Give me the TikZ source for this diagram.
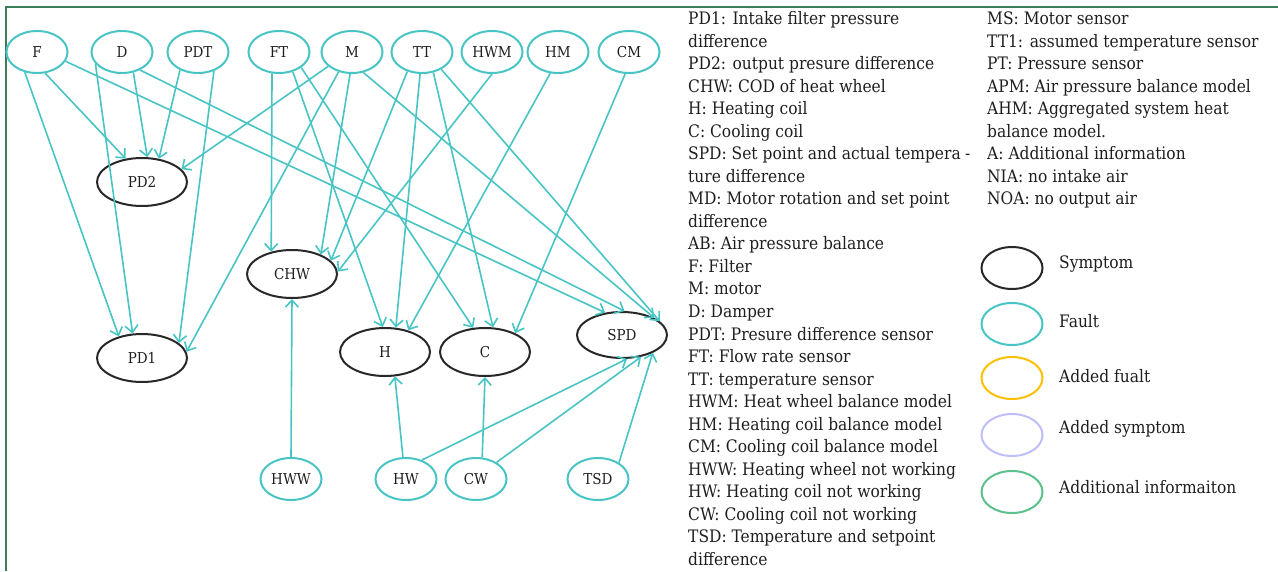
\documentclass[tikz,border=0pt]{standalone}
\usepackage{fontspec}
\setmainfont{DejaVu Serif Condensed}
\usetikzlibrary{shapes.geometric,arrows.meta}
\definecolor{faultc}{RGB}{72,196,196}
\definecolor{sympc}{RGB}{40,40,40}
\definecolor{textc}{RGB}{30,30,30}
\definecolor{addfault}{RGB}{255,192,0}
\definecolor{addsymp}{RGB}{190,190,250}
\definecolor{addinfo}{RGB}{90,192,140}
\definecolor{framec}{RGB}{60,125,90}
\begin{document}
\begin{tikzpicture}[x=1pt,y=-1pt,
  fault/.style={draw=faultc, line width=2pt, ellipse, minimum width=61pt, minimum height=42pt,
    inner sep=0pt, text=textc, font=\fontsize{15}{17}\selectfont},
  symptom/.style={draw=sympc, line width=2pt, ellipse, minimum width=90pt, minimum height=48pt,
    inner sep=0pt, text=textc, font=\fontsize{15}{17}\selectfont},
  legmark/.style={ellipse, line width=2pt, minimum width=61pt, minimum height=42pt, inner sep=0pt},
  link/.style={draw=faultc, line width=1.6pt, -{Straight Barb[length=7pt,width=13pt]}},
  legtext/.style={anchor=base west, inner sep=0pt, text=textc, font=\fontsize{17.2}{20}\selectfont},
]
\useasboundingbox (0,0) rectangle (1278,571);
% frame
\draw[framec, line width=2.5pt] (6,571) -- (6,7) -- (1278,7);

% top row of faults
\node[fault] (F)   at (37,52)  {F};
\node[fault] (D)   at (122,52) {D};
\node[fault] (PDT) at (198,52) {PDT};
\node[fault] (FT)  at (279,52) {FT};
\node[fault] (M)   at (352,52) {M};
\node[fault] (TT)  at (422,52) {TT};
\node[fault] (HWM) at (492,52) {HWM};
\node[fault] (HM)  at (558,52) {HM};
\node[fault] (CM)  at (629,52) {CM};

% symptoms
\node[symptom] (PD2) at (142,182) {PD2};
\node[symptom] (PD1) at (142,358) {PD1};
\node[symptom] (CHW) at (292,274) {CHW};
\node[symptom] (H)   at (385,352) {H};
\node[symptom] (C)   at (485,352) {C};
\node[symptom, minimum height=46pt] (SPD) at (622,335) {SPD};

% bottom row of faults
\node[fault] (HWW) at (291,479) {HWW};
\node[fault] (HW)  at (406,479) {HW};
\node[fault] (CW)  at (476,479) {CW};
\node[fault] (TSD) at (598,479) {TSD};

% fault -> symptom links
\draw[link] (F.-69)  -- (PD2.125);
\draw[link] (F.-121) -- (PD1.137);
\draw[link] (F.-18)  -- (SPD.127);
\draw[link] (D.-61)  -- (PD2.78);
\draw[link] (D.-156) -- (PD1.111);
\draw[link] (D.-45)  -- (SPD.84);
\draw[link] (PDT.-135) -- (PD2.54);
\draw[link] (PDT.-50)  -- (PD1.22);
\draw[link] (FT.-108) -- (CHW.133);
\draw[link] (FT.-55)  -- (H.95);
\draw[link] (FT.-35)  -- (C.116);
\draw[link] (M.-149) -- (PD2.18);
\draw[link] (M.-124) -- (PD1.8);
\draw[link] (M.-95)  -- (CHW.34);
\draw[link] (M.-61)  -- (SPD.28);
\draw[link] (TT.-127) -- (CHW.19);
\draw[link] (TT.-95)  -- (H.66);
\draw[link] (TT.-61)  -- (C.72);
\draw[link] (TT.-42)  -- (SPD.20);
\draw[link] (HWM.-90) -- (CHW.3);
\draw[link] (HM.-110) -- (H.43);
\draw[link] (CM.-100) -- (C.32);
\draw[link] (HWW.north) -- (CHW.south);
\draw[link] (HW.98) -- (H.-68);
\draw[link] (HW.50) -- (SPD.-78);
\draw[link] (CW.74) -- (C.-90);
\draw[link] (CW.39) -- (SPD.-49);
\draw[link] (TSD.38) -- (SPD.-30);

% abbreviations, first column
\foreach \t [count=\i from 0] in {
  PD1: Intake filter pressure, difference, PD2: output presure difference,
  CHW: COD of heat wheel, H: Heating coil, C: Cooling coil,
  SPD: Set point and actual tempera, ture difference,
  MD: Motor rotation and set point, difference, AB: Air pressure balance,
  F: Filter, M: motor, D: Damper, PDT: Presure difference sensor,
  FT: Flow rate sensor, TT: temperature sensor, HWM: Heat wheel balance model,
  HM: Heating coil balance model, CM: Cooling coil balance model,
  HWW: Heating wheel not working, HW: Heating coil not working,
  CW: Cooling coil not working, TSD: Temperature and setpoint, difference}
  \node[legtext] (la\i) at (688,24.5+22.54*\i) {\t};
% hyphen of the broken word "tempera-ture"
\node[legtext] (hy) at (965,24.5+22.54*6) {-};

% abbreviations, second column
\foreach \t [count=\i from 0] in {
  MS: Motor sensor, TT1: assumed temperature sensor, PT: Pressure sensor,
  APM: Air pressure balance model, AHM: Aggregated system heat,
  balance model., A: Additional information, NIA: no intake air, NOA: no output air}
  \node[legtext] (lb\i) at (987,24.5+22.54*\i) {\t};

% key
\node[legmark, draw=sympc]    (k1) at (1012,268) {};
\node[legmark, draw=faultc]   (k2) at (1012,324) {};
\node[legmark, draw=addfault] (k3) at (1012,378) {};
\node[legmark, draw=addsymp]  (k4) at (1012,435) {};
\node[legmark, draw=addinfo]  (k5) at (1012,492) {};
\node[legtext] (t1) at (1059,268) {Symptom};
\node[legtext] (t2) at (1059,327) {Fault};
\node[legtext] (t3) at (1059,382) {Added fualt};
\node[legtext] (t4) at (1059,433) {Added symptom};
\node[legtext] (t5) at (1059,493) {Additional informaiton};
\end{tikzpicture}
\end{document}
